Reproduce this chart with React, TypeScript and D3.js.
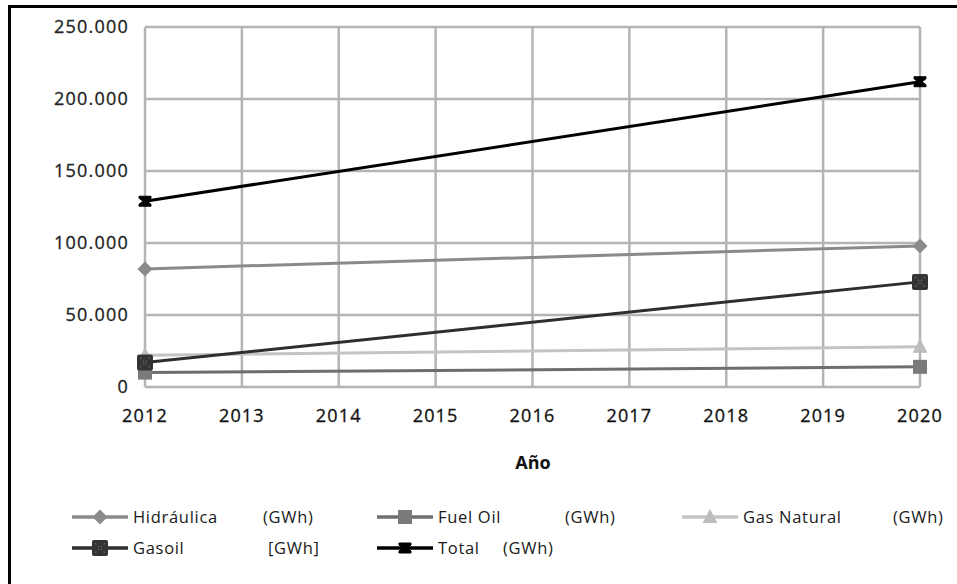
import React from "react";
import * as d3 from "d3";

// Generación eléctrica por fuente (GWh), años 2012 y 2020
const years = [2012, 2013, 2014, 2015, 2016, 2017, 2018, 2019, 2020];
const pointYears = [2012, 2020];
const seriesNames = ["Hidráulica", "Fuel Oil", "Gas Natural", "Gasoil", "Total"];
const seriesUnits = ["(GWh)", "(GWh)", "(GWh)", "[GWh]", "(GWh)"];
const hidraulica = [82000, 98000];
const fuelOil = [10000, 14000];
const gasNatural = [22000, 28000];
const gasoil = [17000, 73000];
const total = [129000, 212000];
const yTicks = [0, 50000, 100000, 150000, 200000, 250000];

const W = 957;
const H = 584;

const x = d3.scaleLinear().domain([2012, 2020]).range([145, 920]);
const y = d3.scaleLinear().domain([0, 250000]).range([387, 27]);

const fmt = d3.formatLocale({
  decimal: ",",
  thousands: ".",
  grouping: [3],
  currency: ["", "€"],
}).format(",d");

type Marker = "diamond" | "square" | "triangle" | "bigsquare" | "hourglass";

const styles: { color: string; marker: Marker; fill: string; width: number }[] = [
  { color: "#8a8a8a", marker: "diamond", fill: "#8a8a8a", width: 3 },
  { color: "#6e6e6e", marker: "square", fill: "#7a7a7a", width: 3 },
  { color: "#c4c4c4", marker: "triangle", fill: "#bdbdbd", width: 3 },
  { color: "#2e2e2e", marker: "bigsquare", fill: "#333333", width: 3 },
  { color: "#000000", marker: "hourglass", fill: "#000000", width: 3 },
];

const seriesValues = [hidraulica, fuelOil, gasNatural, gasoil, total];

function MarkerShape({ kind, cx, cy, fill }: { kind: Marker; cx: number; cy: number; fill: string }) {
  if (kind === "diamond") {
    const s = 7.5;
    return <path d={`M${cx},${cy - s}L${cx + s},${cy}L${cx},${cy + s}L${cx - s},${cy}Z`} fill={fill} />;
  }
  if (kind === "square") {
    return <rect x={cx - 7} y={cy - 7} width={14} height={14} fill={fill} />;
  }
  if (kind === "triangle") {
    return <path d={`M${cx},${cy - 8}L${cx + 7.5},${cy + 6}L${cx - 7.5},${cy + 6}Z`} fill={fill} />;
  }
  if (kind === "bigsquare") {
    return (
      <g>
        <rect x={cx - 8} y={cy - 8} width={16} height={16} rx={2} fill={fill} />
        <path
          d={`M${cx - 5},${cy - 5}L${cx + 5},${cy + 5}M${cx + 5},${cy - 5}L${cx - 5},${cy + 5}`}
          stroke="#555"
          strokeWidth={1.5}
          strokeDasharray="2 2"
        />
      </g>
    );
  }
  // filled hourglass cross
  return (
    <g>
      <path
        d={`M${cx - 6},${cy - 5}L${cx + 6},${cy - 5}L${cx + 6},${cy - 3}L${cx + 2},${cy}L${cx + 6},${cy + 3}L${cx + 6},${cy + 5}L${cx - 6},${cy + 5}L${cx - 6},${cy + 3}L${cx - 2},${cy}L${cx - 6},${cy - 3}Z`}
        fill={fill}
        stroke={fill}
        strokeWidth={1}
      />
    </g>
  );
}

export default function App() {
  const line = d3
    .line<number>()
    .x((_, i) => x(pointYears[i]))
    .y((v) => y(v));

  const tickFont = "'Open Sans', 'DejaVu Sans', sans-serif";
  const legendCols = [72, 377, 682];
  const unitX = [263, 565, 893, 268, 503];

  return (
    <svg
      width={W}
      height={H}
      style={{ position: "absolute", left: 0, top: 0, background: "#fff" }}
      fontFamily={tickFont}
    >
      {/* frame */}
      <path d={`M9.5,${H}L9.5,6.5L${W},6.5`} fill="none" stroke="#000" strokeWidth={3} />

      {/* gridlines */}
      <g stroke="#b4b4b4" strokeWidth={2.5}>
        {yTicks.map((t) => (
          <line key={`h${t}`} x1={x(2012)} x2={x(2020)} y1={y(t)} y2={y(t)} />
        ))}
        {years.map((yr) => (
          <line key={`v${yr}`} x1={x(yr)} x2={x(yr)} y1={y(250000)} y2={y(0)} />
        ))}
      </g>

      {/* y tick labels */}
      <g fill="#222" fontSize={18} letterSpacing={1.2} textAnchor="end" stroke="#222" strokeWidth={0.3}>
        {yTicks.map((t) => (
          <text key={`yl${t}`} x={129} y={y(t) + 6}>
            {fmt(t)}
          </text>
        ))}
      </g>

      {/* x tick labels */}
      <g fill="#111" fontSize={18} letterSpacing={1.2} textAnchor="middle" stroke="#111" strokeWidth={0.3}>
        {years.map((yr) => (
          <text key={`xl${yr}`} x={x(yr)} y={422}>
            {yr}
          </text>
        ))}
      </g>

      <text x={533} y={469} textAnchor="middle" fontSize={18} fontWeight="bold" fill="#111">
        Año
      </text>

      {/* series */}
      {seriesValues.map((vals, si) => (
        <path
          key={`s${si}`}
          d={line(vals) || ""}
          fill="none"
          stroke={styles[si].color}
          strokeWidth={styles[si].width}
        />
      ))}
      {seriesValues.map((vals, si) =>
        vals.map((v, i) => (
          <MarkerShape
            key={`m${si}-${i}`}
            kind={styles[si].marker}
            cx={x(pointYears[i])}
            cy={y(v)}
            fill={styles[si].fill}
          />
        ))
      )}

      {/* legend */}
      <g fontSize={16.5} fill="#1a1a1a" letterSpacing={0.7}>
        {seriesNames.map((name, i) => {
          const row = i < 3 ? 0 : 1;
          const col = i < 3 ? i : i - 3;
          const lx = legendCols[col];
          const ly = row === 0 ? 517 : 548;
          const st = styles[i];
          return (
            <g key={`lg${i}`}>
              <line x1={lx} x2={lx + 56} y1={ly} y2={ly} stroke={st.color} strokeWidth={3.5} />
              <MarkerShape kind={st.marker} cx={lx + 28} cy={ly} fill={st.fill} />
              <text x={lx + 61} y={ly + 6}>
                {name}
              </text>
              <text x={unitX[i]} y={ly + 6}>
                {seriesUnits[i]}
              </text>
            </g>
          );
        })}
      </g>
    </svg>
  );
}
